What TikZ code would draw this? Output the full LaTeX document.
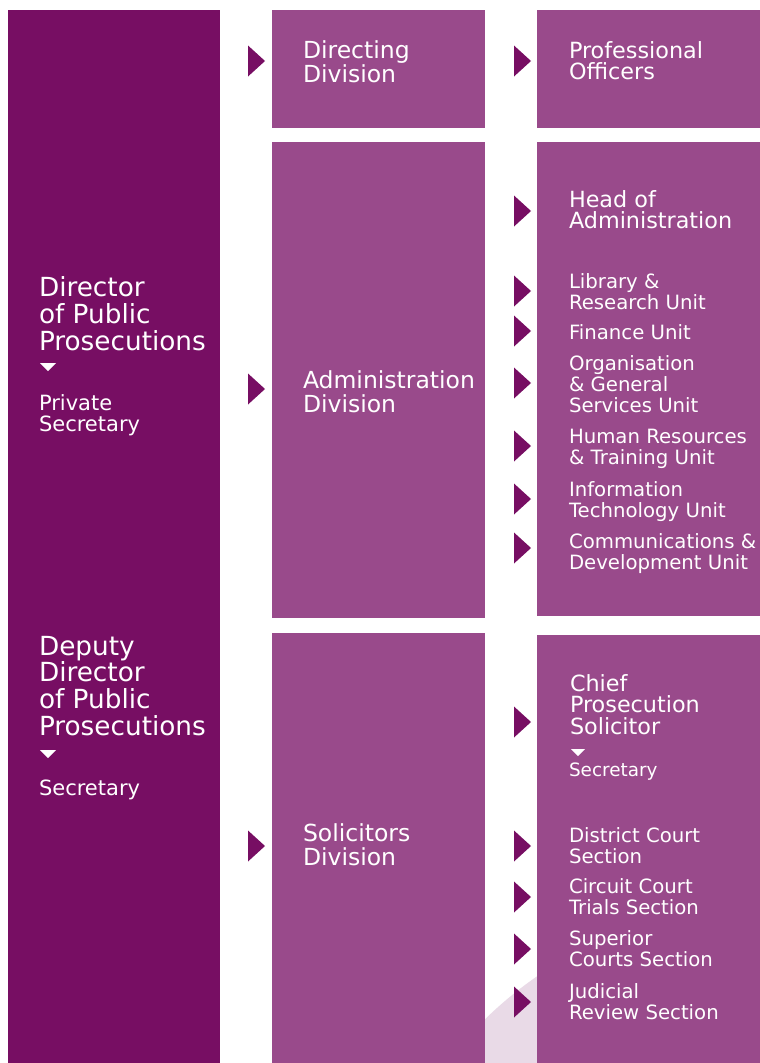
\documentclass[tikz,border=0pt]{standalone}
\usepackage{fontspec}
\setmainfont{DejaVu Sans}
\definecolor{plum}{HTML}{770E63}
\definecolor{orchid}{HTML}{994A8B}
\definecolor{haze}{HTML}{E9DAE7}
\begin{document}
\begin{tikzpicture}[x=1pt,y=-1pt,
  panel/.style={fill=#1, draw=none, inner sep=0pt, outer sep=0pt, anchor=north west},
  % text blocks are placed by the baseline of their last line
  txt/.style={text=white, anchor=base west, inner sep=0pt, outer sep=0pt, align=left},
  chieftxt/.style={txt, font=\fontsize{26.3}{26.6}\selectfont},
  aidetxt/.style={txt, font=\fontsize{21}{21.5}\selectfont},
  divtxt/.style={txt, font=\fontsize{23.5}{24}\selectfont},
  headtxt/.style={txt, font=\fontsize{22.3}{21.5}\selectfont},
  unittxt/.style={txt, font=\fontsize{19.7}{21}\selectfont},
  smalltxt/.style={txt, font=\fontsize{18.4}{20}\selectfont},
  pics/pointer/.style={code={\fill[plum] (0,-15.5) -- (17,0) -- (0,15.5) -- cycle;}},
  pics/drop/.style={code={\fill[white] (0,0) -- (#1,0) -- (#1/2,#1/2) -- cycle;}}
]
\useasboundingbox (0,0) rectangle (760,1063);
\fill[white] (0,0) rectangle (760,1063);
% faint disc behind the lower panels
\begin{scope}
  \clip (0,0) rectangle (760,1063);
  \fill[haze] (760,1300) circle[radius=393];
\end{scope}

% panels
\node[panel=plum, minimum width=212pt, minimum height=1053pt] (lead) at (8,10) {};
\node[panel=orchid, minimum width=213pt, minimum height=118pt] (directing) at (272,10) {};
\node[panel=orchid, minimum width=213pt, minimum height=476pt] (admin) at (272,142) {};
\node[panel=orchid, minimum width=213pt, minimum height=430pt] (solicitors) at (272,633) {};
\node[panel=orchid, minimum width=223pt, minimum height=118pt] (officers) at (537,10) {};
\node[panel=orchid, minimum width=223pt, minimum height=474pt] (units) at (537,142) {};
\node[panel=orchid, minimum width=223pt, minimum height=428pt] (sections) at (537,635) {};

% left column
\node[chieftxt] (dpp) at (39,350) {Director\\of Public\\Prosecutions};
\pic at (40,363) {drop=16};
\node[aidetxt] (ps) at (39,431.5) {Private\\Secretary};
\node[chieftxt] (ddpp) at (39,735) {Deputy\\Director\\of Public\\Prosecutions};
\pic at (40,750) {drop=16};
\node[aidetxt] (dsec) at (39,795) {Secretary};

% divisions
\node[divtxt] (dirdiv) at (303,82) {Directing\\Division};
\node[divtxt] (admdiv) at (303,412) {Administration\\Division};
\node[divtxt] (soldiv) at (303,865) {Solicitors\\Division};
\foreach \y in {61,389,846} \pic at (248,\y) {pointer};

% right column
\node[headtxt] (prof) at (569,79.5) {Professional\\Officers};
\node[headtxt] (hoa) at (569,228.5) {Head of\\Administration};
\node[unittxt] (lib) at (569,309) {Library \&\\Research Unit};
\node[unittxt] (fin) at (569,339) {Finance Unit};
\node[unittxt] (org) at (569,412) {Organisation\\\& General\\Services Unit};
\node[unittxt] (hr) at (569,464) {Human Resources\\\& Training Unit};
\node[unittxt] (it) at (569,517) {Information\\Technology Unit};
\node[unittxt] (comm) at (569,569) {Communications \&\\Development Unit};
\node[headtxt] (cps) at (570,734) {Chief\\Prosecution\\Solicitor};
\pic at (571,749) {drop=14};
\node[smalltxt] (csec) at (569,776) {Secretary};
\node[unittxt] (dc) at (569,863) {District Court\\Section};
\node[unittxt] (cc) at (569,914) {Circuit Court\\Trials Section};
\node[unittxt] (sc) at (569,966) {Superior\\Courts Section};
\node[unittxt] (jr) at (569,1019) {Judicial\\Review Section};
\foreach \y in {61,211,291,331,383,446,499,548,722,846,897,949,1002} \pic at (514,\y) {pointer};
\end{tikzpicture}
\end{document}
